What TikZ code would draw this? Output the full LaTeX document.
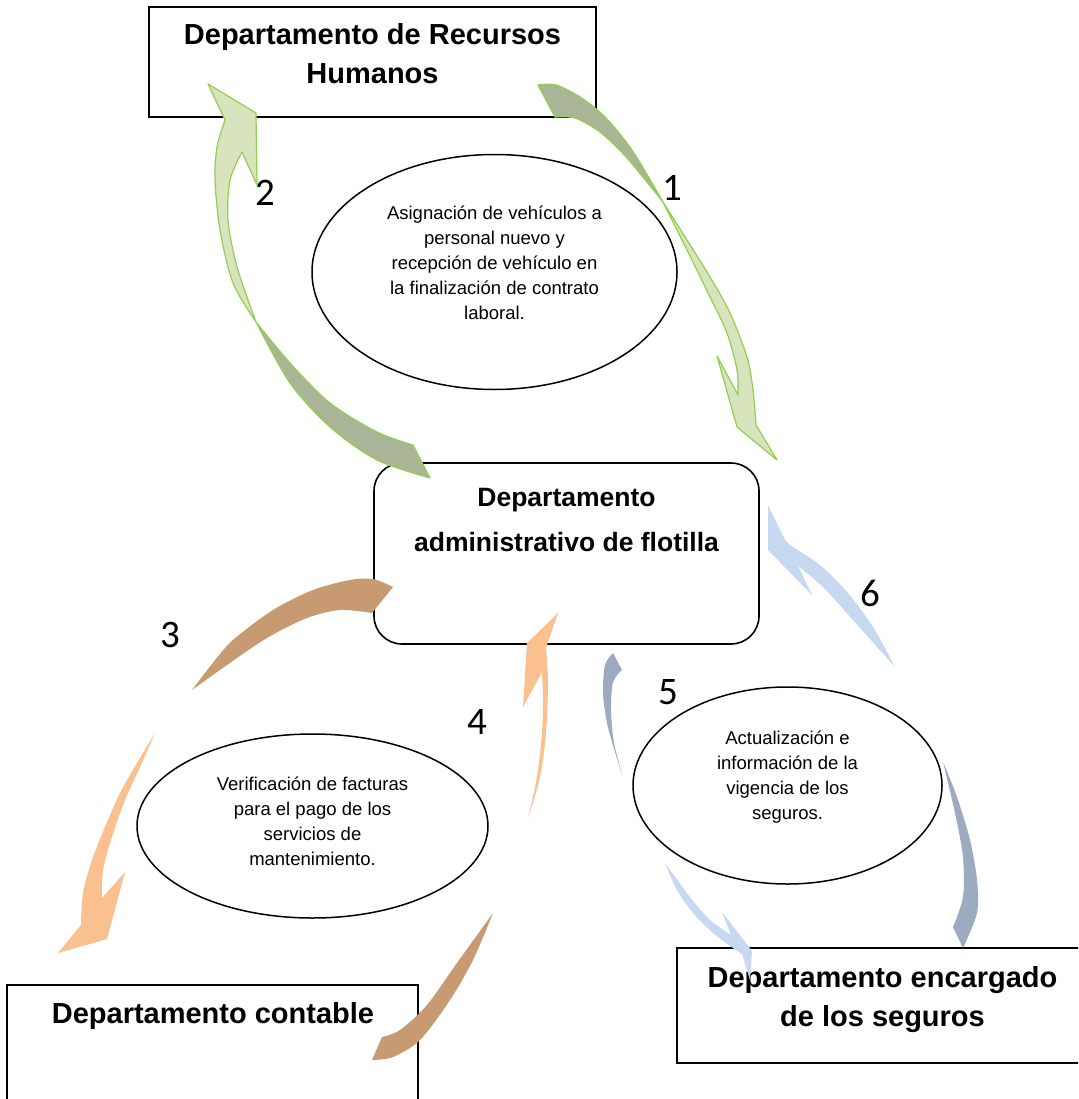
\documentclass[tikz,border=0pt]{standalone}
\usepackage{fontspec}
\setmainfont{Liberation Sans}
\newfontfamily\calib{Carlito}
\usetikzlibrary{shapes.geometric}
\definecolor{gline}{RGB}{146,208,80}
\definecolor{glight}{RGB}{215,228,189}
\definecolor{gdark}{RGB}{170,181,151}
\definecolor{tlight}{RGB}{250,192,144}
\definecolor{tdark}{RGB}{200,154,114}
\definecolor{blight}{RGB}{198,217,241}
\definecolor{bdark}{RGB}{156,171,192}
\tikzset{
  box/.style={draw=black, line width=1.6pt, fill=white, inner sep=0pt},
  ell/.style={draw=black, line width=1.5pt, ellipse, fill=white, inner sep=0pt},
  btitle/.style={font=\fontsize{29}{39}\selectfont\bfseries, align=center, inner sep=0pt, anchor=base},
  ctitle/.style={font=\fontsize{26.5}{45}\selectfont\bfseries, align=center, inner sep=0pt, anchor=base},
  etext/.style={font=\fontsize{18.5}{24.8}\selectfont, align=center, inner sep=0pt, anchor=base},
  num/.style={font=\calib\fontsize{39}{39}\selectfont, inner sep=0pt},
  garrowlight/.style={fill=glight, draw=gline, line width=1.2pt, line join=round},
  garrowdark/.style={fill=gdark, draw=gline, line width=1.2pt, line join=round},
  tarrowlight/.style={fill=tlight},
  tarrowdark/.style={fill=tdark},
  barrowlight/.style={fill=blight},
  barrowdark/.style={fill=bdark},
}
\begin{document}
\begin{tikzpicture}[x=1pt, y=-1pt]
\useasboundingbox (0,0) rectangle (1078,1099);
\clip (0,0) rectangle (1078,1099);
\fill[white] (0,0) rectangle (1078,1099);

% boxes
\node[box, minimum width=447pt, minimum height=110pt] (hr) at (372.5,62) {};
\node[box, rounded corners=28pt, minimum width=385pt, minimum height=181pt] (adm) at (566.5,553.5) {};
\node[box, minimum width=411pt, minimum height=130pt] (cont) at (212.5,1050) {};
\node[box, minimum width=412pt, minimum height=115pt] (seg) at (883,1005.5) {};

% box texts (anchor = baseline of the last line)
\node[btitle] (hrt) at (372.5,83.5) {Departamento de Recursos\\Humanos};
\node[ctitle] (admt) at (566.5,551.7) {Departamento\\administrativo de flotilla};
\node[btitle] (contt) at (213,1023.3) {Departamento contable};
\node[btitle] (segt) at (882.5,1026) {Departamento encargado\\de los seguros};

% ellipses
\node[ell, minimum width=365pt, minimum height=235pt] (e1) at (494.5,272) {};
\node[etext] (e1t) at (494.5,319) {Asignación de vehículos a\\personal nuevo y\\recepción de vehículo en\\la finalización de contrato\\laboral.};
\node[ell, minimum width=351pt, minimum height=184pt] (e3) at (312.5,826) {};
\node[etext] (e3t) at (312.5,865) {Verificación de facturas\\para el pago de los\\servicios de\\mantenimiento.};
\node[ell, minimum width=309pt, minimum height=197pt] (e5) at (787.5,785.5) {};
\node[etext] (e5t) at (787.5,819) {Actualización e\\información de la\\vigencia de los\\seguros.};

% arrow 2 (green, up)
\filldraw[garrowlight] (208,84) -- (256,113) -- (257,185) -- (242,152)
  -- plot[smooth] coordinates {(242,152) (230,180) (228,220) (237,267) (256,322)}
  -- plot[smooth] coordinates {(256,322) (233,283) (220,230) (215,180) (217,147) (225,120)} -- cycle;
\filldraw[garrowdark] plot[smooth] coordinates {(256,322) (290,383) (330,427) (377,460) (430,478)}
  -- (413,445) -- plot[smooth] coordinates {(413,445) (377,432) (330,403) (290,363) (256,322)} -- cycle;

% arrow 1 (green, down)
\filldraw[garrowdark] (538,85) -- (555,117)
  -- plot[smooth] coordinates {(555,117) (575,118) (600,132) (627,158) (663,202)}
  -- plot[smooth] coordinates {(663,202) (632,150) (605,117) (580,97) (556,85) (538,85)} -- cycle;
\filldraw[garrowlight] plot[smooth] coordinates {(663,202) (687,240) (710,277) (730,313) (747,357) (753,390) (756,425)}
  -- (777,460) -- (737,427) -- (717,356) -- (738,395)
  -- plot[smooth] coordinates {(738,395) (737,370) (727,333) (710,297) (687,250) (663,202)} -- cycle;

% arrow 3 (tan, down-left)
\fill[tarrowdark] (393,587) -- (372,613)
  -- plot[smooth] coordinates {(372,613) (340,610) (307,618) (267,638) (227,665) (192,690)}
  -- plot[smooth] coordinates {(192,690) (212,664) (233,640) (273,610) (313,590) (350,580) (373,579) (393,587)} -- cycle;
\fill[tarrowlight] plot[smooth] coordinates {(155,733) (137,763) (120,793) (105,827) (92,860) (83,893) (81,925)}
  -- (58,953) -- (107,939) -- (125,872) -- (102,898)
  -- plot[smooth] coordinates {(102,898) (103,870) (112,837) (125,800) (140,767) (155,733)} -- cycle;

% arrow 4 (tan, up)
\fill[tarrowdark] (372,1060) -- (382,1037)
  -- plot[smooth] coordinates {(382,1037) (400,1030) (427,1005) (457,963) (493,913)}
  -- plot[smooth] coordinates {(493,913) (473,960) (450,1000) (420,1040) (393,1057) (372,1060)} -- cycle;
\fill[tarrowlight] plot[smooth] coordinates {(528,818) (540,777) (546,733) (548,683) (546,648)}
  -- (558,613) -- (527,643) -- (523,707) -- (542,672)
  -- plot[smooth] coordinates {(542,672) (543,700) (542,733) (537,777) (528,818)} -- cycle;

% arrow 5 (blue, down)
\fill[barrowdark] (613,653) -- (622,670)
  -- plot[smooth] coordinates {(622,670) (613,682) (611,710) (614,743) (623,777)}
  -- plot[smooth] coordinates {(623,777) (615,752) (607,723) (603,693) (605,665) (613,653)} -- cycle;
\fill[barrowlight] plot[smooth] coordinates {(665,863) (677,890) (693,913) (713,933) (733,948) (742,954)}
  -- (750,980) -- (752,951) -- (722,912) -- (731,935)
  -- plot[smooth] coordinates {(731,935) (710,920) (690,897) (665,863)} -- cycle;

% arrow 6 (blue, up)
\fill[barrowdark] plot[smooth] coordinates {(943,762) (957,797) (970,840) (977,880) (977,913) (963,948)}
  -- (953,927) -- plot[smooth] coordinates {(953,927) (963,897) (963,857) (955,813) (943,762)} -- cycle;
\fill[barrowlight] plot[smooth] coordinates {(895,667) (873,627) (847,592) (820,565) (793,547) (785,540)}
  -- (768,505) -- (768,550) -- (812,595) -- (798,566)
  -- plot[smooth] coordinates {(798,566) (823,587) (853,620) (877,647) (895,667)} -- cycle;

% numbers
\node[num] (n1) at (672,188) {1};
\node[num] (n2) at (265,193) {2};
\node[num] (n3) at (170,635) {3};
\node[num] (n4) at (477,722) {4};
\node[num] (n5) at (668,692) {5};
\node[num] (n6) at (870,593) {6};
\end{tikzpicture}
\end{document}
